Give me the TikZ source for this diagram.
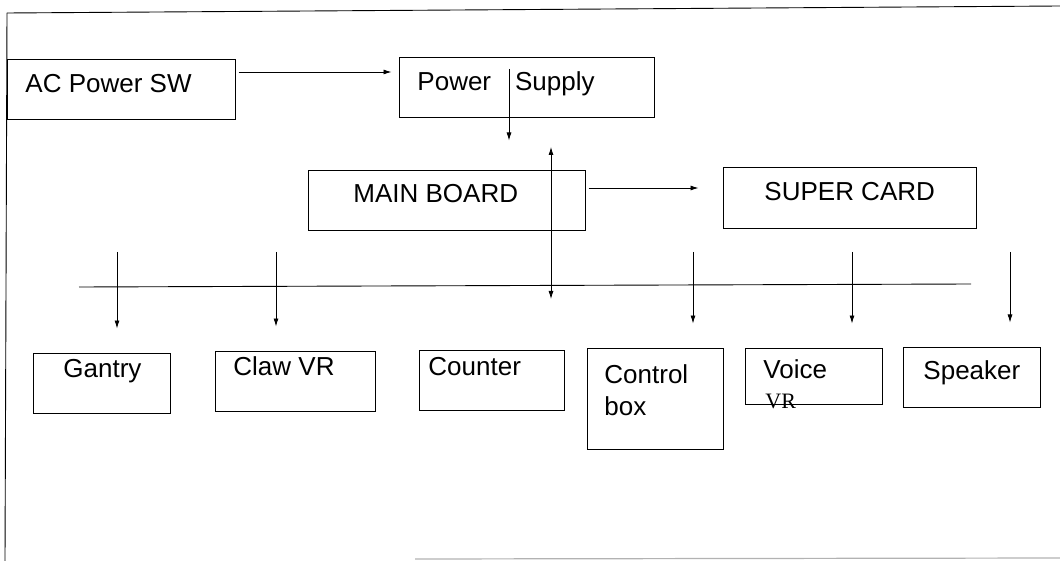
\documentclass[tikz,border=0pt]{standalone}
\usepackage{fontspec}
\setmainfont{Liberation Sans}
\newfontfamily\vrfont{Liberation Serif}
\usetikzlibrary{arrows.meta}

\begin{document}
\begin{tikzpicture}[x=1pt, y=-1pt,
    line width=0.9pt, >={Latex[length=8pt,width=5pt]},
    box/.style={draw, line width=1pt, inner sep=0pt},
    lbl/.style={font=\fontsize{26}{31}\selectfont, anchor=base west, inner sep=0pt},
    arr/.style={->, line width=0.8pt},
]
\useasboundingbox (0,0) rectangle (1060,561);

% Page frame
\draw (7,13) -- (1060,6);
\draw (7,13) -- (5,561);
\draw[gray!60, line width=1.2pt] (415,559) -- (1060,558);

% Top row
\node[box, minimum width=228pt, minimum height=60pt] (ac) at (121,90) {};
\node[lbl] (aclbl) at (25,93) {AC Power SW};
\node[box, minimum width=255pt, minimum height=60pt] (ps) at (526.5,88) {};
\node[lbl] (pslbl) at (417,91) {Power\hspace*{24pt}Supply};

% Middle row
\node[box, minimum width=277pt, minimum height=60pt] (mb) at (446.5,201) {};
\node[lbl] (mblbl) at (353,203) {MAIN BOARD};
\node[box, minimum width=253pt, minimum height=61pt] (sc) at (849.5,198.5) {};
\node[lbl] (sclbl) at (764,201) {SUPER CARD};

% Bottom row
\node[box, minimum width=137pt, minimum height=60pt] (gantry) at (101.5,383) {};
\node[lbl] (gantrylbl) at (63,377) {Gantry};
\node[box, minimum width=160pt, minimum height=60pt] (claw) at (295,381) {};
\node[lbl] (clawlbl) at (233,375) {Claw VR};
\node[box, minimum width=145pt, minimum height=60pt] (counter) at (491.5,380) {};
\node[lbl] (counterlbl) at (428,375) {Counter};
\node[box, minimum width=136pt, minimum height=101pt] (ctrl) at (655,398.5) {};
\node[lbl] (ctrllbl) at (604,383) {Control};
\node[lbl] (ctrllbltwo) at (604,415) {box};
\node[box, minimum width=137pt, minimum height=56pt] (voice) at (813.5,376) {};
\node[lbl] (voicelbl) at (763,378) {Voice};
\node[lbl, font=\vrfont\fontsize{22}{26}\selectfont] (voicelbltwo) at (765,408) {VR};
\node[box, minimum width=137pt, minimum height=60pt] (spk) at (971.5,377) {};
\node[lbl] (spklbl) at (923,379) {Speaker};

% Bus line
\coordinate (busL) at (79,287);
\coordinate (busR) at (971,284);
\draw (busL) -- (busR);

% Power path
\draw[arr, shorten <=3pt, shorten >=7pt] (ac.east |- 0,72) -- (ps.west |- 0,72);
\draw[arr, shorten >=30pt] (509,69) -- (509,0 |- mb.north);
\draw[arr, shorten >=24pt, shorten <=3pt] (mb.east |- 0,188) -- (sc.west |- 0,188);
\draw[<->, line width=0.8pt] (551,147) -- (551,299);

% Drops to the loads
\foreach \x/\n in {117/gantry, 276/claw, 693/ctrl, 852/voice, 1010/spk}
    \draw[arr, shorten >=24pt] (\x,252) -- (\x,0 |- \n.north);
\end{tikzpicture}
\end{document}
